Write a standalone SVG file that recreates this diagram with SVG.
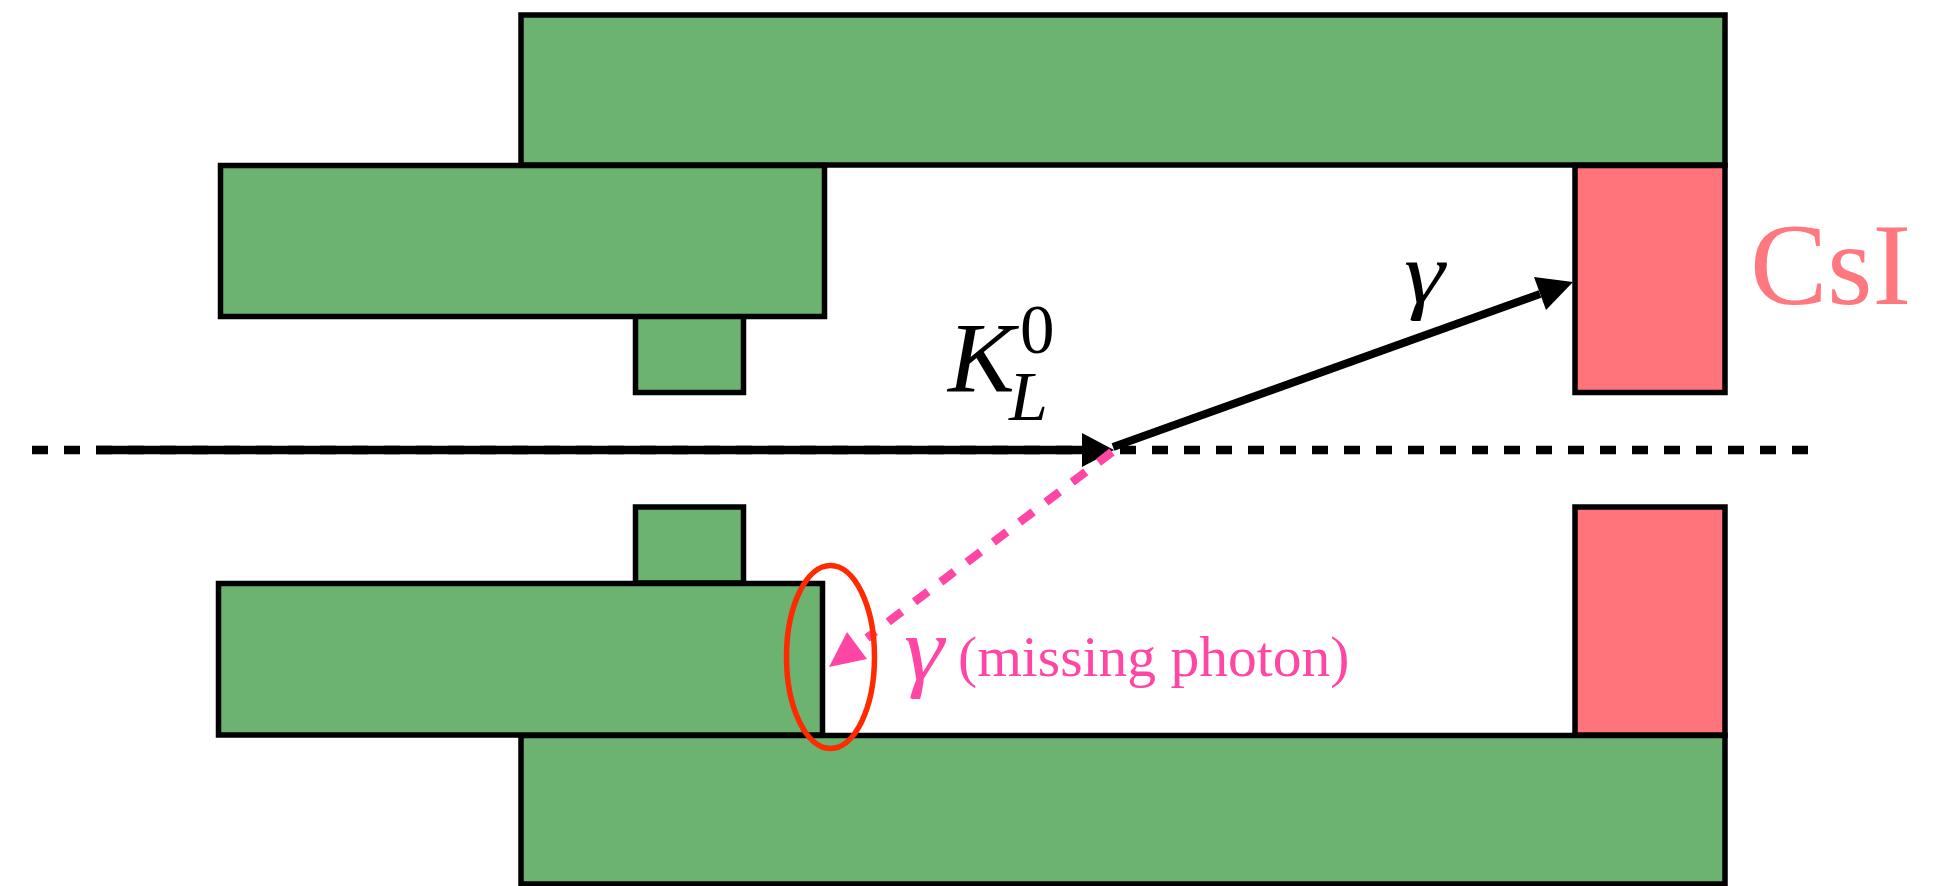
<svg xmlns="http://www.w3.org/2000/svg" width="1948" height="886" viewBox="0 0 1948 886">
<style>
.g{fill:#6cb270;stroke:#000;stroke-width:5.500}
.r{fill:#ff737a;stroke:#000;stroke-width:5.500}
.t{font-family:"Liberation Serif","Times New Roman",serif}
.i{font-style:italic}
.p{fill:#ff46a5}
</style>
<rect width="1948" height="886" fill="#fff"/>
<g id="shield-top"><rect class="g" x="521" y="15" width="1204" height="150"/></g>
<g id="shield-bottom"><rect class="g" x="521" y="735.500" width="1204" height="148.500"/></g>
<g id="collar-top"><rect class="g" x="635.500" y="316" width="108" height="76.500"/></g>
<g id="collar-bottom"><rect class="g" x="635.500" y="507" width="108" height="76"/></g>
<g id="block-top"><rect class="g" x="220.500" y="165.500" width="604" height="151"/></g>
<g id="block-bottom"><rect class="g" x="218.500" y="583.500" width="604" height="151.500"/></g>
<g id="csi-top"><rect class="r" x="1575" y="165.500" width="150" height="227"/></g>
<g id="csi-bottom"><rect class="r" x="1575" y="507" width="150" height="228"/></g>
<g id="connectors">
<path d="M32 450H1810" stroke="#000" stroke-width="8.500" stroke-dasharray="16 16" fill="none"/>
<path d="M96 450H1085" stroke="#000" stroke-width="8.500" fill="none"/>
<polygon points="1082,433 1114,450 1082,467" fill="#000"/>
<path d="M1113 447L1540 294" stroke="#000" stroke-width="8" fill="none"/>
<polygon points="1573,282 1534,277 1546,310" fill="#000"/>
<path d="M1112 452L867 638" stroke="#ff46a5" stroke-width="8.500" stroke-dasharray="17 16" fill="none"/>
<polygon class="p" points="847,632 867,659 829,667"/>
</g>
<g id="missing-ellipse"><ellipse cx="830.500" cy="657" rx="44" ry="91.500" fill="none" stroke="#ff2a00" stroke-width="5.500"/></g>
<g id="labels">
<text class="t i" x="948" y="391" font-size="100" fill="#000">K</text>
<text class="t" x="1020" y="353" font-size="69" fill="#000">0</text>
<text class="t i" x="1009" y="420" font-size="70" fill="#000">L</text>
<text class="t i" transform="translate(1404 302) scale(1.2 1)" font-size="86" fill="#000">γ</text>
<text class="t" x="1750" y="304" font-size="116" fill="#ff7880">CsI</text>
<text class="t i p" transform="translate(904 680) scale(1.1 1)" font-size="92">γ</text>
<text class="t p" x="958" y="676" font-size="57.500">(missing photon)</text>
</g>
</svg>
